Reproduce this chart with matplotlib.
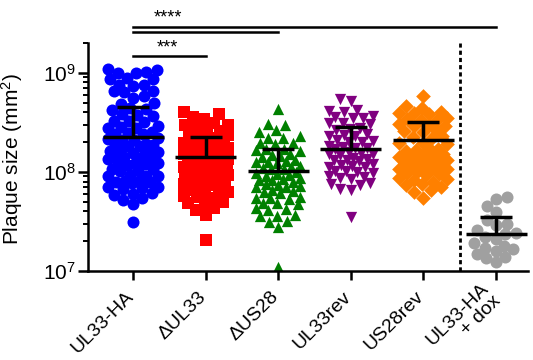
import numpy as np
import matplotlib
matplotlib.use("Agg")
import matplotlib.pyplot as plt
from matplotlib.ticker import LogLocator, NullFormatter
from matplotlib.transforms import ScaledTranslation

plt.rcParams['font.family'] = ['Liberation Sans', 'DejaVu Sans']
plt.rcParams['mathtext.fontset'] = 'custom'
plt.rcParams['mathtext.rm'] = 'Liberation Sans'
plt.rcParams['mathtext.it'] = 'Liberation Sans:italic'

# plaque sizes (units of 1e6 mm^2)
groups = ['UL33-HA', '\u0394UL33', '\u0394US28', 'UL33rev', 'US28rev', 'UL33-HA\n+ dox']

ul33_ha = [1100, 1080, 1010, 990, 1000, 880, 860, 870, 760, 750, 740, 660, 650, 640,
           580, 560, 500, 490, 440, 430, 420, 380, 375, 365, 330, 325, 320,
           290, 285, 280, 275, 250, 248, 244, 240, 218, 215, 212, 210,
           190, 188, 186, 184, 182, 165, 163, 161, 159, 157, 143, 141, 140, 138, 136,
           125, 123, 122, 120, 118, 108, 106, 105, 103, 94, 92, 91, 90,
           82, 81, 80, 79, 78, 71, 70, 69, 68, 61, 60, 59, 54, 52, 47, 31]
d_ul33 = [400, 384, 358, 340, 310, 300, 295, 270, 262, 258, 235, 230, 226, 222,
          203, 200, 197, 194, 178, 175, 173, 170, 168, 155, 152, 150, 148, 146,
          134, 132, 130, 128, 126, 117, 115, 113, 111, 109, 101, 99, 98, 96, 94,
          88, 86, 85, 83, 77, 75, 74, 72, 66, 65, 63, 62, 57, 56, 55, 50, 49, 48,
          43, 41, 37, 20.5]
d_us28 = [430, 305, 298, 262, 255, 228, 222, 218, 198, 194, 190, 172, 169, 166, 163,
          150, 147, 145, 142, 131, 129, 127, 125, 123, 114, 112, 110, 108, 106,
          99, 97, 96, 94, 92, 86, 84, 83, 82, 80, 75, 73, 72, 71, 70,
          65, 64, 62, 61, 56, 55, 54, 53, 49, 48, 47, 43, 42, 41, 37, 36, 35.5,
          32, 31, 27.5, 11]
ul33rev = [550, 520, 420, 410, 400, 365, 360, 352, 348, 315, 310, 305, 275, 270, 265,
           240, 236, 232, 228, 208, 205, 202, 199, 181, 178, 176, 174, 172,
           158, 155, 153, 151, 149, 137, 135, 133, 131, 129, 119, 117, 115, 113, 111,
           103, 101, 100, 98, 90, 88, 87, 85, 78, 76, 74, 67, 65, 35]
us28rev = [580, 460, 445, 400, 395, 390, 385, 348, 343, 338, 333, 302, 297, 292, 288,
           262, 258, 254, 228, 224, 220, 198, 195, 192, 172, 169, 166, 163,
           150, 147, 145, 143, 141, 131, 128, 126, 124, 122, 114, 112, 110, 108, 106,
           99, 97, 95, 93, 86, 84, 82, 80, 75, 73, 71, 65, 63, 55]
ul33_ha_dox = [56, 53, 45, 39, 33, 30, 29, 26, 24, 23.5, 22, 21, 19, 18, 17, 16.5,
               16, 15, 14, 13.5, 12.2]

# median line and upper error bar (1e6 mm^2)
centers = [224, 140, 101, 169, 209, 23.8]
uppers = [450, 224, 169, 283, 318, 35.3]

colors = ['#0000FF', '#FF0000', '#008000', '#800080', '#FF8000', '#A0A0A0']
markers = ['o', 's', '^', 'v', 'D', 'o']
sizes = [75, 66, 66, 66, 56, 75]
halfw = [25, 22, 22, 22, 24, 22]

data = [ul33_ha, d_ul33, d_us28, ul33rev, us28rev, ul33_ha_dox]
data = [np.array(v) * 1e6 for v in data]
centers = np.array(centers) * 1e6
uppers = np.array(uppers) * 1e6

fig = plt.figure(figsize=(5.33, 3.6), dpi=100)
ax = fig.add_axes([88 / 533, 1 - 271 / 360, 440 / 533, 228 / 360])
ax.set_yscale('log')
ax.set_ylim(1e7, 2e9)
ax.set_xlim(-0.62, 5.44)


def swarm(ypix, d, half):
    cands = np.arange(-half, half + 0.01, 0.5)
    cands = cands[np.argsort(np.abs(cands), kind='stable')]
    xs = np.zeros(len(ypix))
    px, py = [], []
    for k in np.argsort(ypix):
        y = ypix[k]
        best, best_gap = 0.0, -1.0
        for c in cands:
            if px:
                gap = np.min(np.hypot(c - np.array(px), y - np.array(py)))
            else:
                gap = 1e9
            if gap >= d:
                best = c
                break
            if gap > best_gap:
                best, best_gap = c, gap
        xs[k] = best
        px.append(best)
        py.append(y)
    return xs


for i, vals in enumerate(data):
    pts = ax.transData.transform(np.column_stack([np.full(len(vals), i), vals]))
    off = swarm(pts[:, 1], 10.5, halfw[i])
    pts[:, 0] += off
    xy = ax.transData.inverted().transform(pts)
    ax.scatter(xy[:, 0], vals, s=sizes[i], marker=markers[i], color=colors[i],
               linewidths=0, zorder=2)

x = np.arange(len(groups))
ax.hlines(centers, x - 0.42, x + 0.42, color='black', lw=2.5, zorder=3)
ax.hlines(uppers, x - 0.22, x + 0.22, color='black', lw=2.5, zorder=3)
ax.vlines(x, centers, uppers, color='black', lw=2.5, zorder=3)

ax.axvline(4.5, color='black', lw=2.0, linestyle=(0, (1.5, 1.1)), zorder=1)

# significance bars
ax.plot([0, 5], [2.93e9, 2.93e9], color='black', lw=1.8, clip_on=False)
ax.plot([0, 2], [2.6e9, 2.6e9], color='black', lw=1.8, clip_on=False)
ax.plot([0, 1], [1.49e9, 1.49e9], color='black', lw=1.8, clip_on=False)
ax.text(0.48, 3.6e9, '****', ha='center', va='center', fontsize=13)
ax.text(0.48, 1.78e9, '***', ha='center', va='center', fontsize=13)

for s in ['top', 'right']:
    ax.spines[s].set_visible(False)
for s in ['left', 'bottom']:
    ax.spines[s].set_linewidth(1.8)

ax.yaxis.set_minor_locator(LogLocator(base=10, subs=np.arange(2, 10)))
ax.yaxis.set_minor_formatter(NullFormatter())
ax.tick_params(axis='y', which='major', length=7, width=1.8, labelsize=15, pad=2)
ax.tick_params(axis='y', which='minor', length=3.5, width=1.4)
ax.tick_params(axis='x', length=6.5, width=1.8, labelsize=14, pad=6)
ax.set_xticks(x)
ax.set_xticklabels(groups, rotation=45, ha='right', rotation_mode='anchor',
                   multialignment='right', linespacing=1.0)
for k, lab in enumerate(ax.get_xticklabels()):
    dx, dy = (-8, 0) if k < 5 else (-16, 8)
    lab.set_transform(lab.get_transform() + ScaledTranslation(dx / 100, dy / 100, fig.dpi_scale_trans))

ax.set_ylabel('Plaque size (mm$^2$)', fontsize=15)
ax.yaxis.set_label_coords(-0.143, 0.49)

fig.savefig('out.png', dpi=100)
